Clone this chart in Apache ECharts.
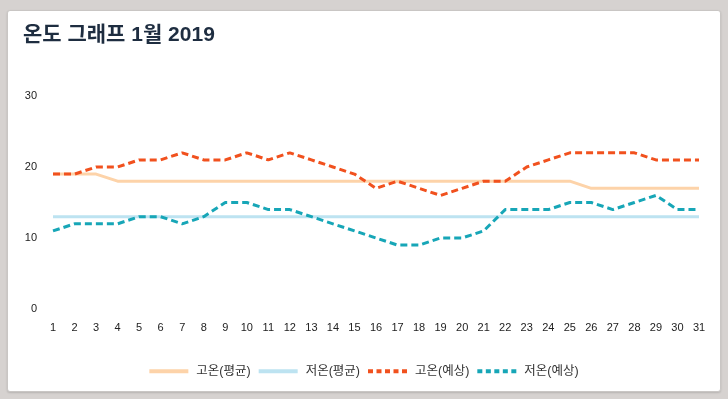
<!DOCTYPE html>
<html>
<head>
<meta charset="utf-8">
<script src="https://cdn.jsdelivr.net/npm/echarts@6/dist/echarts.min.js"></script>
<style>
html,body{margin:0;padding:0;width:728px;height:399px;background:#d6d2d0;overflow:hidden;}
#card{position:absolute;left:7px;top:10px;width:712px;height:380px;background:#fff;border:1px solid #c9c6c4;border-radius:3px;box-shadow:0 1px 2px rgba(0,0,0,0.15);}
#chart{position:absolute;left:0;top:0;width:728px;height:399px;}
</style>
</head>
<body>
<div id="card"></div>
<div id="chart"></div>
<script>
const days = ['1','2','3','4','5','6','7','8','9','10','11','12','13','14','15','16','17','18','19','20','21','22','23','24','25','26','27','28','29','30','31'];
const highAvg = [19,19,19,18,18,18,18,18,18,18,18,18,18,18,18,18,18,18,18,18,18,18,18,18,18,17,17,17,17,17,17];
const lowAvg = [13,13,13,13,13,13,13,13,13,13,13,13,13,13,13,13,13,13,13,13,13,13,13,13,13,13,13,13,13,13,13];
const highFc = [19,19,20,20,21,21,22,21,21,22,21,22,21,20,19,17,18,17,16,17,18,18,20,21,22,22,22,22,21,21,21];
const lowFc = [11,12,12,12,13,13,12,13,15,15,14,14,13,12,11,10,9,9,10,10,11,14,14,14,15,15,14,15,16,14,14];
const yTicks = {min:0, max:30, interval:10};
const names = ['고온(평균)','저온(평균)','고온(예상)','저온(예상)'];

const FONT = "'Liberation Sans', 'Noto Sans CJK KR', sans-serif";
const DASH_ICON = 'path://M0,0h5v4h-5z M8.5,0h5v4h-5z M17,0h5v4h-5z M25.5,0h5v4h-5z M34,0h5v4h-5z';
const chart = echarts.init(document.getElementById('chart'), null, {renderer:'canvas'});
function mk(name, data, color, dashed){
  return {
    name, type:'line', data, symbol:'none', smooth:false,
    lineStyle:{color, width:3, type: dashed ? [7,4] : 'solid'},
    itemStyle:{color},
    emphasis:{disabled:true}
  };
}
chart.setOption({
  backgroundColor:'transparent',
  animation:false,
  title:{
    text:'온도 그래프 1월 2019', left:18, top:20,
    textStyle:{fontFamily:FONT, fontSize:21, fontWeight:'bold', color:'#1e2d40'}
  },
  legend:{
    data:[
      {name:names[0], icon:'rect'},
      {name:names[1], icon:'rect'},
      {name:names[2], icon:DASH_ICON},
      {name:names[3], icon:DASH_ICON}
    ],
    top:360, left:'center', itemWidth:39, itemHeight:4, itemGap:8,
    textStyle:{fontFamily:FONT, fontSize:12.5, color:'#333', padding:[0,0,0,3]}
  },
  grid:{left:53, right:29, top:96, bottom:90, containLabel:false},
  xAxis:{
    type:'category', data:days, boundaryGap:false,
    axisLine:{show:false}, axisTick:{show:false},
    axisLabel:{interval:0, margin:13, fontFamily:FONT, fontSize:11, color:'#222'},
    splitLine:{show:false}
  },
  yAxis:{
    type:'value', min:yTicks.min, max:yTicks.max, interval:yTicks.interval,
    axisLine:{show:false}, axisTick:{show:false}, splitLine:{show:false},
    axisLabel:{margin:16, fontFamily:FONT, fontSize:11, color:'#222'}
  },
  series:[
    mk(names[0], highAvg, '#fdd3a9', false),
    mk(names[1], lowAvg, '#bde3f1', false),
    mk(names[2], highFc, '#f1511e', true),
    mk(names[3], lowFc, '#17a6b7', true)
  ]
});
</script>
</body>
</html>
